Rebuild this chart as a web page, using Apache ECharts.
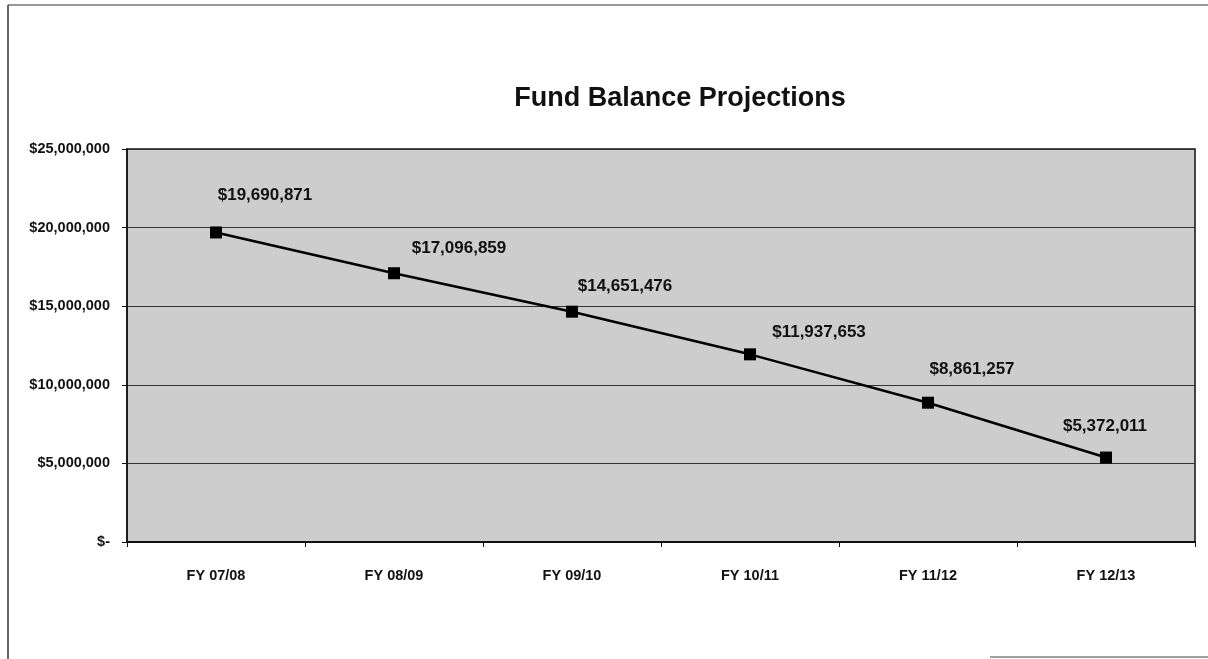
<!DOCTYPE html>
<html>
<head>
    <meta charset="utf-8">
    <title>Fund Balance Projections</title>
    <script type="text/javascript" src="https://cdn.jsdelivr.net/npm/echarts@6/dist/echarts.min.js"></script>
    <style>
        html, body { margin: 0; padding: 0; background: #fff; }
    </style>
</head>
<body>
    <div id="main" style="width: 1208px;height:659px;"></div>
    <script type="text/javascript">
        // data
        var years = ['FY 07/08', 'FY 08/09', 'FY 09/10', 'FY 10/11', 'FY 11/12', 'FY 12/13'];
        var balances = [19690871, 17096859, 14651476, 11937653, 8861257, 5372011];
        // where each value label sits relative to its marker
        var labelOffsets = [[49, -37], [65, -25], [53, -25], [69, -22], [44, -33], [-1, -31]];

        function money(v) {
            if (v === 0) return '$-';
            return '$' + v.toString().replace(/\B(?=(\d{3})+(?!\d))/g, ',');
        }

        var points = balances.map(function (v, i) {
            return {
                value: v,
                label: { offset: labelOffsets[i] }
            };
        });

        var chartDom = document.getElementById('main');
        var myChart = echarts.init(chartDom);
        var font = '"Liberation Sans", Arial, sans-serif';

        var option = {
            animation: false,
            backgroundColor: '#fff',
            textStyle: { fontFamily: font },
            title: {
                text: 'Fund Balance Projections',
                left: 675,
                top: 80,
                textAlign: 'center',
                textStyle: { fontSize: 27, fontWeight: 'bold', color: '#111', fontFamily: font }
            },
            // scanned page frame
            graphic: [
                { type: 'line', shape: { x1: 8, y1: 5, x2: 1208, y2: 5 }, style: { stroke: '#333', lineWidth: 1.2 } },
                { type: 'line', shape: { x1: 8, y1: 5, x2: 8, y2: 659 }, style: { stroke: '#333', lineWidth: 1.5 } },
                { type: 'line', shape: { x1: 990, y1: 657, x2: 1208, y2: 657 }, style: { stroke: '#444', lineWidth: 1.2 } }
            ],
            grid: {
                left: 127,
                right: 13,
                top: 149,
                bottom: 117,
                show: true,
                backgroundColor: '#cdcdcd',
                borderColor: '#111',
                borderWidth: 1.5
            },
            xAxis: {
                type: 'category',
                data: years,
                boundaryGap: true,
                axisLine: { lineStyle: { color: '#111', width: 2 } },
                axisTick: { show: true, length: 5, lineStyle: { color: '#111' } },
                axisLabel: { fontSize: 14.5, fontWeight: 'bold', color: '#111', margin: 26, fontFamily: font },
                splitLine: { show: false }
            },
            yAxis: {
                type: 'value',
                min: 0,
                max: 25000000,
                interval: 5000000,
                axisLine: { show: true, lineStyle: { color: '#111', width: 1.5 } },
                axisTick: { show: true, length: 5, lineStyle: { color: '#111' } },
                axisLabel: {
                    fontSize: 14.5, fontWeight: 'bold', color: '#111', margin: 17, fontFamily: font,
                    formatter: money
                },
                splitLine: { show: true, lineStyle: { color: '#333', width: 1 } }
            },
            series: [{
                type: 'line',
                data: points,
                symbol: 'rect',
                symbolSize: 12,
                itemStyle: { color: '#000' },
                lineStyle: { color: '#000', width: 2.5 },
                label: {
                    show: true,
                    position: 'inside',
                    fontSize: 17,
                    fontWeight: 'bold',
                    color: '#111',
                    fontFamily: font,
                    formatter: function (p) { return money(p.value); }
                }
            }]
        };
        myChart.setOption(option);
    </script>
</body>
</html>
